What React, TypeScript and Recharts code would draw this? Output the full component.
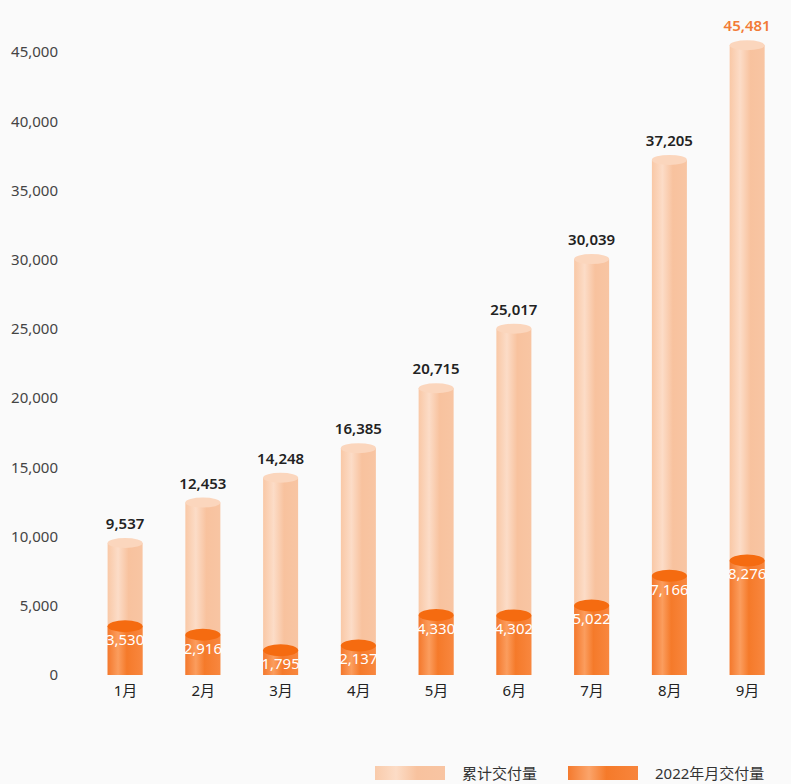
import React from "react";
import { BarChart, Bar, XAxis, YAxis, Legend, LabelList } from "recharts";

const months = ["1月", "2月", "3月", "4月", "5月", "6月", "7月", "8月", "9月"];
const cumulative = [9537, 12453, 14248, 16385, 20715, 25017, 30039, 37205, 45481];
const monthly = [3530, 2916, 1795, 2137, 4330, 4302, 5022, 7166, 8276];
const yTicks = [0, 5000, 10000, 15000, 20000, 25000, 30000, 35000, 40000, 45000];

const data = months.map((m, i) => ({ month: m, total: cumulative[i], monthly: monthly[i] }));

const FONT = "'Noto Sans', 'Noto Sans CJK SC', sans-serif";
const fmt = (v: number) => v.toLocaleString("en-US");

function Cylinder(props: any) {
  const { x, y, width, height, grad, top, ry } = props;
  if (!width || height == null) return null;
  return (
    <g>
      <rect x={x} y={y} width={width} height={height} fill={`url(#${grad})`} />
      <ellipse cx={x + width / 2} cy={y} rx={width / 2} ry={ry} fill={top} />
    </g>
  );
}

function TotalLabel(props: any) {
  const { x, y, width, value, index } = props;
  const last = index === cumulative.length - 1;
  return (
    <text
      x={x + width / 2}
      y={y - 14}
      textAnchor="middle"
      fontSize={15}
      fontWeight={600}
      fontFamily={FONT}
      fill={last ? "#f27b36" : "#222"}
    >
      {fmt(value)}
    </text>
  );
}

function MonthLabel(props: any) {
  const { x, y, width, value } = props;
  return (
    <text
      x={x + width / 2}
      y={y + 15}
      textAnchor="middle"
      dominantBaseline="middle"
      fontSize={15}
      fontFamily={FONT}
      fill="#fff"
    >
      {fmt(value)}
    </text>
  );
}

function LegendBox() {
  const item = (grad: string, label: string, gap: number) => (
    <div style={{ display: "flex", alignItems: "center", marginRight: gap, flexShrink: 0 }}>
      <div style={{ width: 70, height: 14, background: grad, marginRight: 17, flexShrink: 0 }} />
      <span style={{ fontSize: 15, color: "#333", fontFamily: FONT, whiteSpace: "nowrap" }}>{label}</span>
    </div>
  );
  return (
    <div style={{ display: "flex", alignItems: "center", whiteSpace: "nowrap" }}>
      {item("linear-gradient(90deg,#f9cbab 0%,#fcdcc6 30%,#f8c29e 60%,#f8c4a2 100%)", "累计交付量", 31)}
      {item("linear-gradient(90deg,#f47a2e 0%,#fba46a 30%,#f57a2a 55%,#f8853c 100%)", "2022年月交付量", 0)}
    </div>
  );
}

export default function App() {
  return (
    <div style={{ position: "absolute", left: 0, top: 0, width: 791, height: 784, background: "#fafafa", overflow: "hidden" }}>
      <BarChart
        width={791}
        height={784}
        data={data}
        margin={{ top: 24.3, right: 4.6, bottom: 79, left: 0 }}
        barSize={35}
        barGap={-35}
      >
        <defs>
          <linearGradient id="lightBody" x1="0" y1="0" x2="1" y2="0">
            <stop offset="0%" stopColor="#f9c8a6" />
            <stop offset="30%" stopColor="#fcdcc7" />
            <stop offset="60%" stopColor="#f8c29e" />
            <stop offset="100%" stopColor="#f8c5a3" />
          </linearGradient>
          <linearGradient id="darkBody" x1="0" y1="0" x2="1" y2="0">
            <stop offset="0%" stopColor="#f4782c" />
            <stop offset="30%" stopColor="#fb9d5e" />
            <stop offset="55%" stopColor="#f57a2a" />
            <stop offset="100%" stopColor="#f8873f" />
          </linearGradient>
        </defs>
        <XAxis
          dataKey="month"
          axisLine={false}
          tickLine={false}
          tickSize={0}
          tickMargin={10}
          height={30}
          padding={{ left: 20.6, right: 0 }}
          tick={{ fontSize: 15, fill: "#222", fontFamily: FONT }}
        />
        <YAxis
          domain={[0, 47000]}
          ticks={yTicks}
          width={66}
          axisLine={false}
          tickLine={false}
          tickSize={0}
          tickMargin={8}
          tickFormatter={fmt}
          tick={{ fontSize: 15, fill: "#444", fontFamily: FONT }}
        />
        <Legend
          layout="horizontal"
          verticalAlign="middle"
          align="center"
          wrapperStyle={{ position: "absolute", top: 762, left: 375, width: 410, height: 22 }}
          content={() => <LegendBox />}
        />
        <Bar
          dataKey="total"
          name="累计交付量"
          isAnimationActive={false}
          shape={(p: any) => <Cylinder {...p} grad="lightBody" top="#fbd6bd" ry={5} />}
        >
          <LabelList dataKey="total" content={TotalLabel} />
        </Bar>
        <Bar
          dataKey="monthly"
          name="2022年月交付量"
          isAnimationActive={false}
          shape={(p: any) => <Cylinder {...p} grad="darkBody" top="#f56b10" ry={6} />}
        >
          <LabelList dataKey="monthly" content={MonthLabel} />
        </Bar>
      </BarChart>
    </div>
  );
}
